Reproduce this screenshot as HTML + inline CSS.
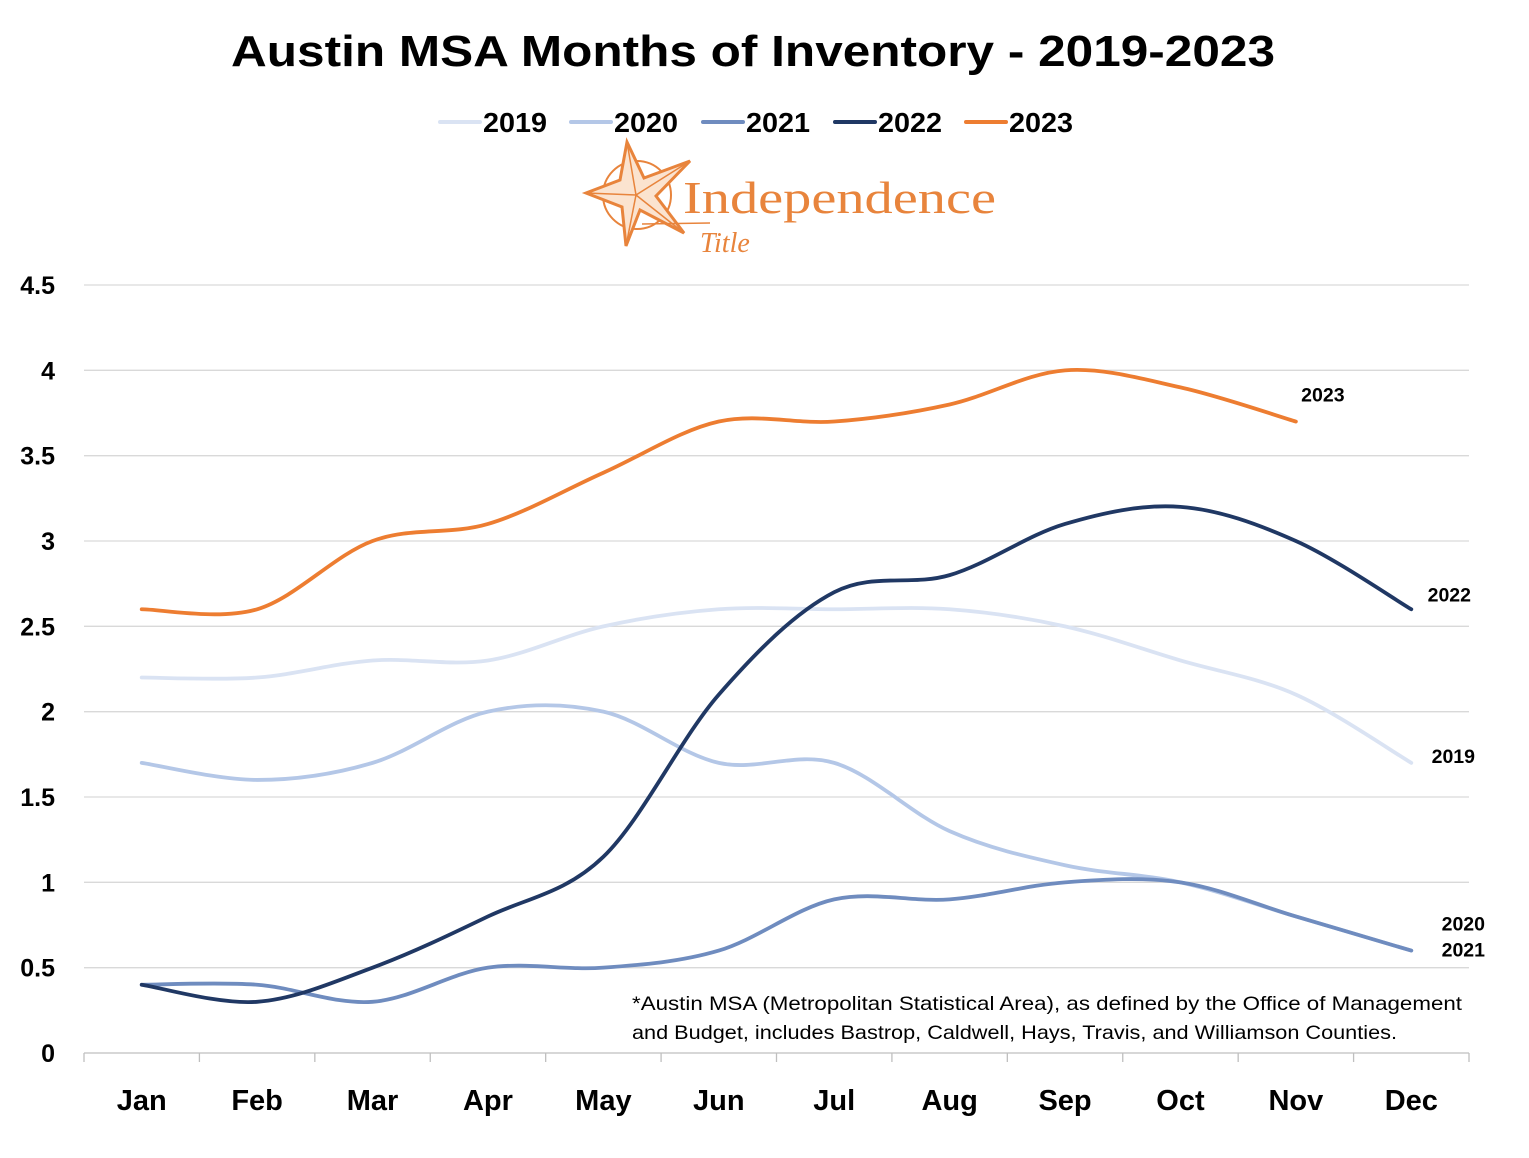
<!DOCTYPE html>
<html><head><meta charset="utf-8"><style>
body{margin:0;background:#fff;}
svg{display:block;font-family:"Liberation Sans",sans-serif;}
</style></head><body>
<svg id="chart" width="1529" height="1158" viewBox="0 0 1529 1158">
<text x="753" y="66" text-anchor="middle" font-size="44" font-weight="bold" textLength="1044" lengthAdjust="spacingAndGlyphs">Austin MSA Months of Inventory - 2019-2023</text>
<g id="legend"></g>
<g>
<circle cx="637" cy="195" r="34" fill="none" stroke="#e8843c" stroke-width="2"/>
<polygon points="627,142 644,178 690,161 656,196 684,233 640,210 626,246 622,207 586,193 620,180" fill="#fbe3cf" stroke="#e8843c" stroke-width="3"/>
<polyline points="627,142 636,195 690,161 M0,0" fill="none" stroke="#e8843c" stroke-width="1.5"/>
<line x1="636" y1="195" x2="586" y2="193" stroke="#e8843c" stroke-width="1.5"/>
<line x1="636" y1="195" x2="626" y2="246" stroke="#e8843c" stroke-width="1.5"/>
<line x1="636" y1="195" x2="684" y2="233" stroke="#e8843c" stroke-width="1.5"/>
<text x="683" y="213" font-family="Liberation Serif,serif" font-size="46" fill="#e8843c" textLength="313" lengthAdjust="spacingAndGlyphs">Independence</text>
<line x1="642" y1="224" x2="710" y2="223" stroke="#e8843c" stroke-width="1.5"/>
<text x="700" y="252" font-family="Liberation Serif,serif" font-style="italic" font-size="28" fill="#e8843c">Title</text>
</g>
<g id="grid"></g>
<g id="axes"></g>
<g id="series"></g>
<g id="labels"></g>
<text x="632" y="1010" font-size="19.5" fill="#000" textLength="830" lengthAdjust="spacingAndGlyphs">*Austin MSA (Metropolitan Statistical Area), as defined by the Office of Management</text>
<text x="632" y="1039" font-size="19.5" fill="#000" textLength="765" lengthAdjust="spacingAndGlyphs">and Budget, includes Bastrop, Caldwell, Hays, Travis, and Williamson Counties.</text>
</svg>
<script>
const months=["Jan","Feb","Mar","Apr","May","Jun","Jul","Aug","Sep","Oct","Nov","Dec"];
const yTicks=[0,0.5,1,1.5,2,2.5,3,3.5,4,4.5];
const yTickLabels=["0","0.5","1","1.5","2","2.5","3","3.5","4","4.5"];
const seriesNames=["2019","2020","2021","2022","2023"];
const v2019=[2.2,2.2,2.3,2.3,2.5,2.6,2.6,2.6,2.5,2.3,2.1,1.7];
const v2020=[1.7,1.6,1.7,2.0,2.0,1.7,1.7,1.3,1.1,1.0,0.8,0.6];
const v2021=[0.4,0.4,0.3,0.5,0.5,0.6,0.9,0.9,1.0,1.0,0.8,0.6];
const v2022=[0.4,0.3,0.5,0.8,1.15,2.1,2.7,2.8,3.1,3.2,3.0,2.6];
const v2023=[2.6,2.6,3.0,3.1,3.4,3.7,3.7,3.8,4.0,3.9,3.7];
const colors=["#dae3f3","#b4c7e7","#6f8cbf","#203864","#ed7d31"];
const NS="http://www.w3.org/2000/svg";
const X0=84,X1=1469,Y0=1053,Y1=285,YMAX=4.5;
const band=(X1-X0)/months.length;
const x=i=>X0+band*(i+0.5);
const y=v=>Y0-(v/YMAX)*(Y0-Y1);
function mk(t,a,p){const e=document.createElementNS(NS,t);for(const k in a)e.setAttribute(k,a[k]);p.appendChild(e);return e;}
const grid=document.getElementById('grid'),axes=document.getElementById('axes');
yTicks.forEach((t,i)=>{
 if(t>0){const l=mk('line',{x1:X0,x2:X1,y1:y(t),y2:y(t),stroke:'#d9d9d9','stroke-width':1.3},grid);
 
 }
 const tx=mk('text',{x:55,y:y(t)+9,'text-anchor':'end','font-size':25,'font-weight':'bold'},axes);
 tx.textContent=yTickLabels[i];
 
 
});
const ax=mk('line',{x1:X0,x2:X1,y1:Y0,y2:Y0,stroke:'#bfbfbf','stroke-width':1.3},axes);


for(let i=0;i<=months.length;i++){mk('line',{x1:X0+band*i,x2:X0+band*i,y1:Y0,y2:Y0+9,stroke:'#bfbfbf','stroke-width':1.3},axes);}
months.forEach((m,i)=>{
 const t=mk('text',{x:x(i),y:1110,'text-anchor':'middle','font-size':29,'font-weight':'bold'},axes);
 t.textContent=m;
 
 
});
function smooth(vals){
 const p=vals.map((v,i)=>[x(i),y(v)]);let d=`M${p[0][0]},${p[0][1]}`;
 for(let i=0;i<p.length-1;i++){const a=p[i-1]||p[i],b=p[i],c=p[i+1],e=p[i+2]||c;
  const c1=[b[0]+(c[0]-a[0])/6,b[1]+(c[1]-a[1])/6],c2=[c[0]-(e[0]-b[0])/6,c[1]-(e[1]-b[1])/6];
  d+=`C${c1[0]},${c1[1]} ${c2[0]},${c2[1]} ${c[0]},${c[1]}`;}
 return d;}
const all=[v2019,v2020,v2021,v2022,v2023];
const ser=document.getElementById('series');
all.forEach((vals,k)=>{
 const p=mk('path',{d:smooth(vals),fill:'none',stroke:colors[k],'stroke-width':3.8,'stroke-linecap':'round'},ser);
 
 
});
const lab=document.getElementById('labels');
const offs=[[22,0],[32,-20],[32,6],[18,-8],[2,-20]];
all.forEach((vals,k)=>{
 const i=vals.length-1;
 const t=mk('text',{x:x(i)+offs[k][0]+(k===4?25:20),y:y(vals[i])+offs[k][1],'text-anchor':'middle','font-size':19.5,'font-weight':'bold'},lab);
 t.textContent=seriesNames[k];
 
 
});
const lg=document.getElementById('legend');
const lx=[440,571,703,835,966];
seriesNames.forEach((n,k)=>{
 const l=mk('line',{x1:lx[k],x2:lx[k]+40,y1:122,y2:122,stroke:colors[k],'stroke-width':4,'stroke-linecap':'round'},lg);
 
 
 const t=mk('text',{x:lx[k]+43,y:132,'font-size':28,'font-weight':'bold',textLength:64,lengthAdjust:'spacingAndGlyphs'},lg);
 t.textContent=n;
 
 
});
</script>
</body></html>
